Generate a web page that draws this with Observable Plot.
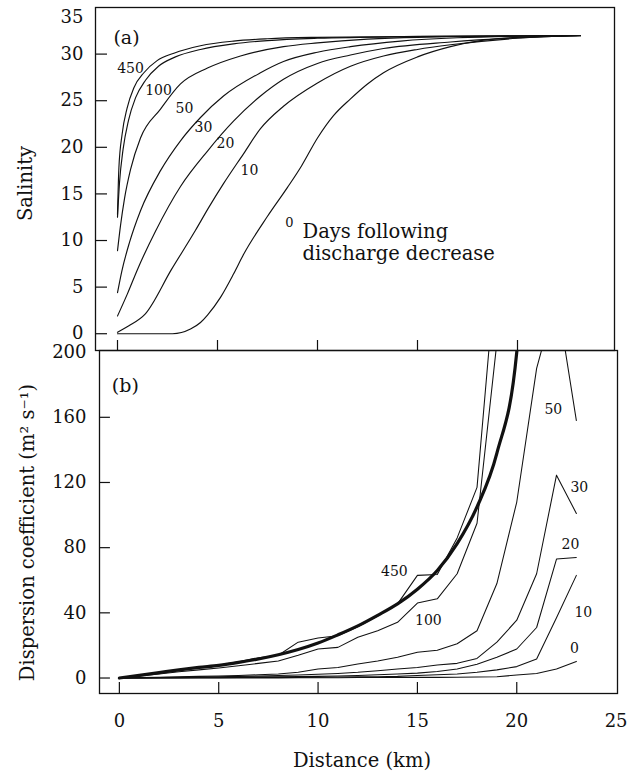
<!DOCTYPE html>
<html><head><meta charset="utf-8">
<script src="https://cdn.jsdelivr.net/npm/d3@7"></script>
<script src="https://cdn.jsdelivr.net/npm/@observablehq/plot@0.6"></script>
<style>
html,body{margin:0;padding:0;background:#fff;}
#chart svg{display:block;}
</style></head><body><div id="chart"></div>
<script>
const FONT = "DejaVu Serif";
const INK = "#111";

// ---------- Panel (a): salinity profiles, [distance km, salinity] ----------
const sal450 = [[0,12.8],[0.07,17.8],[0.23,21.4],[0.48,24.2],[0.82,26.4],[1.32,28.0],[1.98,29.3],[2.82,30.1],[4.15,30.9],[5.8,31.4],[7.5,31.65],[10,31.8],[15,31.9],[23.15,32.0]];
const sal100 = [[0,12.5],[0.1,16.2],[0.28,19.8],[0.55,22.9],[0.9,25.3],[1.4,27.2],[2.05,28.7],[2.9,29.7],[4.15,30.5],[5.8,31.1],[7.5,31.45],[10,31.7],[15,31.88],[23.15,32.0]];
const sal50  = [[0,8.9],[0.15,11.6],[0.35,14.5],[0.65,17.6],[1.15,21.0],[2.15,24.1],[3.15,26.8],[4.5,28.5],[6.15,29.8],[8.3,30.8],[10,31.2],[12.5,31.6],[15,31.8],[23.15,32.0]];
const sal30  = [[0,4.4],[0.22,6.75],[0.6,9.8],[1.15,13.2],[2.15,17.5],[3.15,20.7],[4.15,23.2],[5.3,25.5],[7.15,28.0],[8.3,29.2],[10,30.2],[11.65,30.8],[14.15,31.4],[17,31.75],[23.15,32.0]];
const sal20  = [[0,1.9],[0.5,4.3],[1.0,6.9],[1.9,11.0],[3.15,15.8],[4.5,19.6],[5.8,22.8],[7.15,25.5],[8.3,27.3],[10,29.0],[11.65,29.9],[13.3,30.6],[16.65,31.3],[20,31.75],[23.15,32.0]];
const sal10  = [[0,0.15],[0.57,0.85],[1.38,2.1],[2.7,6.9],[3.9,11.1],[4.55,13.5],[5.3,16.1],[6.3,19.3],[7.15,22.0],[8.3,24.4],[10,26.9],[11.65,28.7],[13.3,29.8],[15,30.5],[16.65,31.0],[20,31.7],[23.15,32.0]];
const sal0   = [[0,0],[2.75,0],[3.65,0.5],[4.15,1.2],[4.5,2.0],[5.15,3.9],[5.8,6.4],[6.3,8.5],[7.5,12.6],[8.5,15.7],[9.2,18.0],[10,21.0],[10.8,23.4],[11.65,25.2],[12.5,26.8],[13.3,28.0],[15,29.7],[16.65,30.8],[18.3,31.5],[20,31.8],[23.15,31.95]];

const labelsA = [
  {t:"450", x:0.65, y:28.5}, {t:"100", x:2.05, y:26.1}, {t:"50", x:3.35, y:24.2},
  {t:"30", x:4.3, y:22.1}, {t:"20", x:5.4, y:20.4}, {t:"10", x:6.6, y:17.5}
];
const label0A = [{t:"0", x:8.6, y:11.9}];
const noteA = [{t:"Days following\ndischarge decrease", x:9.25, y:9.85}];

const yTicksA = [0,5,10,15,20,25,30];
const yTopTickA = [35];
const xTicksA = [0,5,10,15,20];

// ---------- Panel (b): dispersion coefficient, values at each km ----------
const distKm  = [0,1,2,3,4,5,6,7,8,9,10,11,12,13,14,15,16,17,18,19,20,21,22,23];
const disp450 = [0,1.6,3.4,5.1,6.5,8,10,12.5,14,22,24.5,26,31.5,38,45.5,63,63.5,86,117,258];
const disp100 = [0,1.2,2.5,3.8,5,6.2,7.5,9,10.5,14,17.8,18.8,25,29,34.2,46,48.6,64,95,206];
const disp50  = [0,0.3,0.5,0.8,1,1.3,1.6,2,2.5,3.5,5.5,6.5,8.6,10.5,12.7,15.8,17,21,29,58,108,190,235,158];
const disp30  = [0,0.2,0.3,0.5,0.6,0.8,1,1.2,1.5,1.9,2.3,2.8,3.5,4.5,5.5,6.5,8,9,12,22,35.5,64,124.5,101];
const disp20  = [0,0.1,0.2,0.3,0.4,0.5,0.6,0.7,0.8,0.9,1,1.3,1.6,2,2.5,3,4,5.5,8.5,12.7,17.8,31,73,74];
const disp10  = [0,0,0.1,0.1,0.2,0.2,0.3,0.3,0.4,0.4,0.5,0.6,0.7,0.8,1,1.5,2,2.5,3.5,5,7,11.7,37,63];
const disp0   = [0,0,0,0,0,0.1,0.1,0.1,0.1,0.2,0.2,0.2,0.3,0.3,0.3,0.4,0.4,0.5,0.6,0.8,1.8,2.8,5.5,10.2];
// bold smooth curve
const fitKm   = [0,1,2,3,4,5,6,7,8,9,10,11,12,13,14,15,16,17,18,19,20,20.2];
const fitDisp = [0,1.6,3.3,5,6.5,7.8,9.6,11.7,14.3,17.5,21.5,26.5,32,38.5,45.5,54.5,66,82.5,105,138,200,230];

const labelsB = [
  {t:"450", x:13.84, y:65.3}, {t:"100", x:15.55, y:35.3}, {t:"50", x:21.84, y:164.7},
  {t:"30", x:23.15, y:117}, {t:"20", x:22.7, y:81.9}, {t:"10", x:23.35, y:40.2}, {t:"0", x:22.9, y:18.1}
];
const yTicksB = [0,40,80,120,160,200];
const xTicksB = [0,5,10,15,20,25];

// ---------- build rows ----------
const seriesA = [["450",sal450],["100",sal100],["50",sal50],["30",sal30],["20",sal20],["10",sal10],["0",sal0]];
const rowsA = seriesA.flatMap(([day, pts]) => pts.map(([x, y]) => ({day, x, y})));
const seriesB = [["450",disp450],["100",disp100],["50",disp50],["30",disp30],["20",disp20],["10",disp10],["0",disp0]];
const rowsB = seriesB.flatMap(([day, vals]) => vals.map((v, i) => ({day, x: distKm[i], y: v})));
const rowsFit = fitDisp.map((v, i) => ({x: fitKm[i], y: v}));

const xDomA = [-1.1, 24.85], yDomA = [-1.8, 35];
const xDomB = [-1.0, 25.07], yDomB = [-9.5, 201];

const plotA = Plot.plot({
  width: 638, height: 350,
  marginLeft: 95, marginRight: 24, marginTop: 7, marginBottom: 0,
  style: {fontFamily: FONT, overflow: "visible", background: "transparent", color: INK},
  x: {domain: xDomA, axis: null},
  y: {domain: yDomA, axis: null},
  marks: [
    Plot.line(rowsA, {x: "x", y: "y", z: "day", stroke: INK, strokeWidth: 1.15, curve: "monotone-x"}),
    Plot.ruleY(yTicksA, {y: d => d, x1: xDomA[0], x2: xDomA[0] + 0.6, stroke: INK, strokeWidth: 1.2}),
    Plot.ruleX(xTicksA, {x: d => d, y1: yDomA[0], y2: yDomA[0] + 1.07, stroke: INK, strokeWidth: 1.2}),
    Plot.axisY({ticks: yTicksA, tickSize: 0, tickPadding: 12, fontSize: 18, label: null, fill: INK}),
    Plot.axisY({ticks: yTopTickA, tickSize: 0, tickPadding: 12, dy: 10, fontSize: 18, label: null, fill: INK}),
    Plot.text(labelsA, {x: "x", y: "y", text: "t", fontSize: 14, fill: INK}),
    Plot.text(label0A, {x: "x", y: "y", text: "t", fontSize: 13, fill: INK}),
    Plot.text(noteA, {x: "x", y: "y", text: "t", fontSize: 19.5, textAnchor: "start", lineHeight: 1.13, fill: INK}),
    Plot.text(["(a)"], {x: 0.45, y: 31.7, fontSize: 19, fill: INK}),
    Plot.text(["Salinity"], {frameAnchor: "left", textAnchor: "middle", lineAnchor: "middle", dx: -70, dy: 4.5, rotate: -90, fontSize: 19.5, fill: INK}),
    Plot.frame({stroke: INK, strokeWidth: 1.3})
  ]
});

const plotB = Plot.plot({
  width: 638, height: 422,
  marginLeft: 99, marginRight: 21, marginTop: 0, marginBottom: 79,
  style: {fontFamily: FONT, overflow: "visible", background: "transparent", color: INK},
  x: {domain: xDomB, axis: null},
  y: {domain: yDomB, axis: null},
  marks: [
    Plot.line(rowsB, {x: "x", y: "y", z: "day", stroke: INK, strokeWidth: 1.05, clip: true}),
    Plot.line(rowsFit, {x: "x", y: "y", stroke: INK, strokeWidth: 3.2, curve: "monotone-x", clip: true}),
    Plot.ruleY(yTicksB.slice(0, 5), {y: d => d, x1: xDomB[0], x2: xDomB[0] + 0.55, stroke: INK, strokeWidth: 1.2}),
    Plot.ruleX(xTicksB.slice(0, 5), {x: d => d, y1: yDomB[0], y2: yDomB[0] + 6.75, stroke: INK, strokeWidth: 1.2}),
    Plot.axisY({ticks: yTicksB, tickSize: 0, tickPadding: 13, fontSize: 18, label: null, fill: INK}),
    Plot.axisX({ticks: xTicksB, tickSize: 0, tickPadding: 20.5, fontSize: 18, label: null, fill: INK}),
    Plot.text(labelsB, {x: "x", y: "y", text: "t", fontSize: 14, fill: INK}),
    Plot.text(["(b)"], {x: 0.3, y: 179.4, fontSize: 19, fill: INK}),
    Plot.text(["Dispersion coefficient (m² s⁻¹)"], {frameAnchor: "left", textAnchor: "middle", lineAnchor: "middle", dx: -71.5, dy: 10.5, rotate: -90, fontSize: 19.5, fill: INK}),
    Plot.text(["Distance (km)"], {frameAnchor: "bottom", textAnchor: "middle", lineAnchor: "middle", dx: 3.5, dy: 67, fontSize: 19.5, fill: INK}),
    Plot.frame({stroke: INK, strokeWidth: 1.3})
  ]
});

const chart = document.getElementById("chart");
chart.appendChild(plotA);
chart.appendChild(plotB);
</script></body></html>
